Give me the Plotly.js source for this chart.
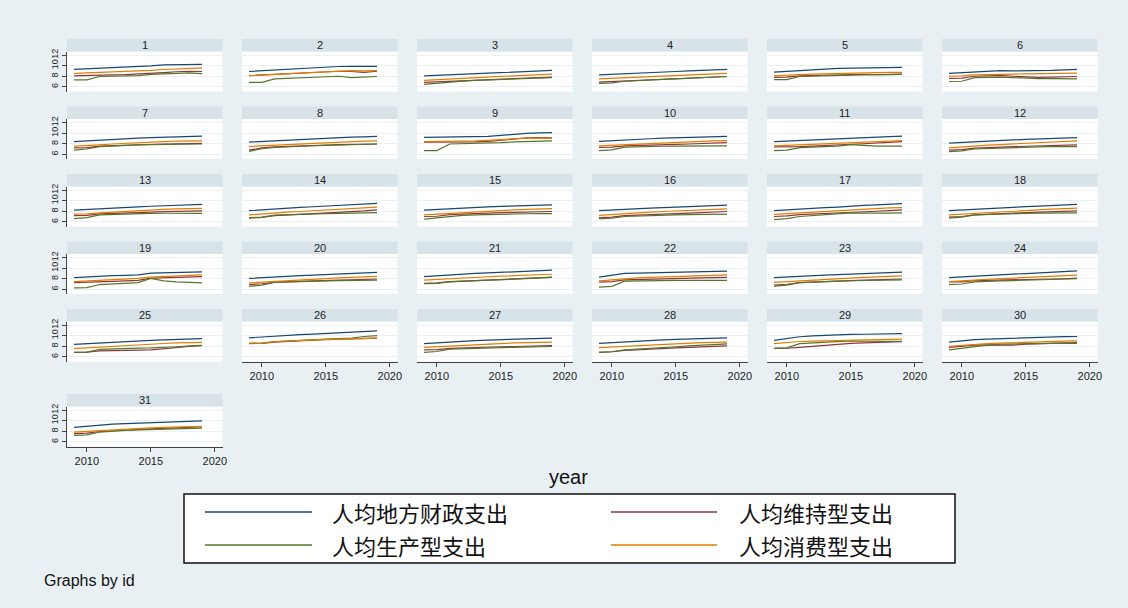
<!DOCTYPE html>
<html><head><meta charset="utf-8">
<script src="https://cdn.plot.ly/plotly-3.0.1.min.js"></script>
<style>html,body{margin:0;padding:0;background:#e9f0f3}</style>
</head><body><div id="chart" style="width:1128px;height:608px"></div>
<script>
const years = [2009,2010,2011,2012,2013,2014,2015,2016,2017,2018,2019];
const panelIds = ['1','2','3','4','5','6','7','8','9','10','11','12','13','14','15','16','17','18','19','20','21','22','23','24','25','26','27','28','29','30','31'];
const seriesNames = ['人均地方财政支出','人均维持型支出','人均生产型支出','人均消费型支出'];
const xTickVals = [2010, 2015, 2020];
const yTickVals = [6, 8, 10, 12];

// 人均地方财政支出 (navy)
const fiscal = [
[9.30,9.40,9.52,9.62,9.72,9.82,9.95,10.15,10.20,10.22,10.25],
[8.90,9.05,9.20,9.35,9.48,9.60,9.72,9.85,9.90,9.85,9.88],
[8.05,8.18,8.30,8.40,8.48,8.58,8.68,8.80,8.90,9.00,9.12],
[8.25,8.38,8.50,8.62,8.72,8.82,8.90,9.00,9.10,9.20,9.30],
[8.80,8.95,9.15,9.30,9.40,9.48,9.55,9.60,9.65,9.68,9.70],
[8.55,8.70,8.85,9.00,9.05,9.00,9.00,9.05,9.10,9.20,9.30],
[8.40,8.55,8.70,8.85,8.95,9.05,9.15,9.25,9.35,9.40,9.45],
[8.32,8.45,8.60,8.72,8.85,8.95,9.05,9.15,9.25,9.32,9.40],
[9.20,9.22,9.25,9.28,9.30,9.40,9.60,9.80,9.95,10.05,10.10],
[8.45,8.60,8.75,8.85,8.95,9.05,9.12,9.20,9.28,9.35,9.40],
[8.40,8.52,8.62,8.72,8.82,8.92,9.05,9.15,9.25,9.35,9.45],
[8.10,8.25,8.40,8.52,8.62,8.72,8.82,8.92,9.00,9.08,9.15],
[8.20,8.35,8.48,8.60,8.72,8.82,8.95,9.05,9.15,9.22,9.30],
[8.10,8.28,8.45,8.60,8.72,8.85,8.98,9.10,9.22,9.35,9.50],
[8.20,8.35,8.48,8.60,8.72,8.82,8.92,9.00,9.08,9.15,9.20],
[8.10,8.25,8.38,8.50,8.60,8.70,8.80,8.90,8.98,9.08,9.15],
[8.10,8.28,8.42,8.55,8.68,8.80,9.00,9.10,9.20,9.32,9.45],
[8.10,8.25,8.40,8.52,8.65,8.75,8.88,8.98,9.08,9.18,9.30],
[8.20,8.35,8.48,8.58,8.65,8.72,9.05,9.12,9.18,9.25,9.30],
[8.05,8.22,8.38,8.50,8.60,8.70,8.80,8.90,9.00,9.10,9.20],
[8.40,8.58,8.75,8.88,9.00,9.10,9.20,9.30,9.40,9.52,9.65],
[8.30,8.65,9.00,9.05,9.10,9.15,9.20,9.28,9.35,9.40,9.45],
[8.20,8.35,8.48,8.58,8.68,8.78,8.88,8.98,9.08,9.16,9.25],
[8.20,8.35,8.55,8.65,8.78,8.88,8.98,9.08,9.20,9.32,9.50],
[8.35,8.50,8.65,8.78,8.90,9.00,9.10,9.20,9.28,9.36,9.45],
[9.60,9.78,9.95,10.08,10.20,10.30,10.40,10.52,10.62,10.75,10.90],
[8.50,8.68,8.85,8.98,9.08,9.18,9.28,9.36,9.44,9.50,9.55],
[8.55,8.70,8.85,8.98,9.10,9.20,9.30,9.38,9.46,9.54,9.60],
[9.10,9.50,9.80,9.95,10.10,10.18,10.27,10.28,10.30,10.33,10.40],
[8.80,9.05,9.25,9.35,9.45,9.55,9.65,9.72,9.78,9.82,9.85],
[8.75,8.95,9.20,9.35,9.45,9.55,9.65,9.75,9.82,9.90,9.95]
];
// 人均维持型支出 (maroon)
const maintain = [
[8.08,8.10,8.18,8.25,8.32,8.40,8.48,8.70,8.85,8.95,8.90],
[8.12,8.22,8.34,8.46,8.58,8.70,8.82,8.95,8.90,8.75,8.95],
[6.85,6.95,7.10,7.20,7.28,7.36,7.44,7.52,7.60,7.70,7.82],
[6.90,7.00,7.15,7.28,7.38,7.48,7.55,7.64,7.72,7.82,7.95],
[7.80,7.85,8.05,8.12,8.20,8.25,8.30,8.35,8.30,8.35,8.40],
[7.60,7.65,8.00,8.10,8.15,8.00,7.85,7.80,7.85,7.90,7.95],
[7.20,7.25,7.55,7.65,7.75,7.82,7.90,7.95,8.00,8.02,8.05],
[6.80,7.20,7.40,7.52,7.60,7.68,7.75,7.82,7.88,7.92,7.95],
[8.30,8.30,8.28,8.30,8.35,8.45,8.65,8.90,9.10,9.15,9.10],
[7.30,7.35,7.60,7.70,7.75,7.80,7.88,7.95,8.02,8.12,8.20],
[7.40,7.40,7.45,7.55,7.62,7.70,7.90,8.00,8.08,8.25,8.40],
[6.80,6.90,7.15,7.28,7.38,7.46,7.52,7.60,7.68,7.75,7.80],
[7.15,7.20,7.50,7.62,7.70,7.78,7.85,7.92,7.98,8.02,8.05],
[6.70,6.85,7.15,7.30,7.42,7.55,7.68,7.80,7.92,8.05,8.25],
[7.00,7.05,7.35,7.48,7.58,7.66,7.74,7.80,7.86,7.92,7.95],
[6.80,6.90,7.15,7.28,7.38,7.46,7.55,7.64,7.72,7.82,7.95],
[7.00,7.10,7.35,7.48,7.58,7.68,7.85,7.92,8.00,8.10,8.25],
[6.90,7.00,7.30,7.45,7.55,7.65,7.72,7.80,7.88,7.95,8.05],
[7.25,7.30,7.40,7.50,7.60,7.70,8.10,8.15,8.20,8.30,8.40],
[6.90,7.05,7.35,7.45,7.52,7.60,7.66,7.72,7.80,7.88,7.95],
[7.10,7.20,7.45,7.58,7.68,7.76,7.84,7.92,8.02,8.12,8.25],
[7.35,7.45,7.80,7.88,7.95,8.00,8.05,8.10,8.15,8.20,8.25],
[6.80,6.95,7.25,7.38,7.48,7.56,7.64,7.72,7.80,7.88,7.95],
[7.40,7.40,7.65,7.72,7.78,7.82,7.86,7.90,7.95,8.00,8.10],
[6.85,6.90,7.10,7.20,7.25,7.28,7.30,7.55,7.80,7.95,8.10],
[8.50,8.55,8.80,8.95,9.05,9.15,9.25,9.35,9.42,9.50,9.55],
[7.30,7.35,7.60,7.70,7.78,7.85,7.90,7.95,8.00,8.05,8.10],
[6.85,6.95,7.20,7.35,7.48,7.58,7.68,7.78,7.88,7.96,8.05],
[7.60,7.62,7.80,8.00,8.20,8.40,8.55,8.65,8.70,8.78,8.85],
[7.80,8.00,8.20,8.25,8.25,8.20,8.40,8.50,8.60,8.65,8.70],
[7.55,7.65,7.95,8.10,8.25,8.35,8.45,8.55,8.65,8.75,8.85]
];
// 人均生产型支出 (forest green)
const produce = [
[7.30,7.30,7.95,8.00,8.05,8.10,8.35,8.45,8.55,8.65,8.50],
[6.85,6.85,7.50,7.58,7.66,7.74,7.85,8.00,7.72,7.85,7.95],
[6.45,6.70,6.95,7.08,7.20,7.28,7.36,7.45,7.55,7.65,7.75],
[6.65,6.75,7.05,7.20,7.30,7.40,7.48,7.58,7.68,7.80,7.95],
[7.35,7.35,7.95,8.05,8.10,8.15,8.22,8.28,8.25,8.30,8.35],
[7.00,7.05,7.75,7.85,7.85,7.75,7.60,7.55,7.55,7.50,7.50],
[6.80,7.00,7.45,7.60,7.70,7.78,7.85,7.90,7.92,7.95,7.95],
[6.55,7.05,7.30,7.45,7.55,7.62,7.70,7.78,7.85,7.90,7.95],
[6.70,6.70,7.95,7.98,8.00,8.05,8.20,8.35,8.45,8.55,8.55],
[6.70,6.85,7.35,7.45,7.50,7.52,7.55,7.55,7.58,7.60,7.60],
[6.70,6.80,7.25,7.35,7.40,7.55,7.85,7.65,7.55,7.55,7.55],
[6.50,6.65,7.00,7.10,7.20,7.28,7.35,7.40,7.45,7.45,7.45],
[6.60,6.80,7.30,7.40,7.48,7.55,7.60,7.62,7.62,7.60,7.60],
[6.80,6.90,7.25,7.35,7.42,7.50,7.55,7.60,7.65,7.70,7.72],
[6.50,6.75,7.10,7.22,7.32,7.40,7.46,7.50,7.52,7.55,7.55],
[6.55,6.70,7.00,7.10,7.18,7.25,7.30,7.35,7.40,7.42,7.45],
[6.40,6.60,7.00,7.15,7.30,7.45,7.70,7.65,7.58,7.65,7.70],
[6.70,6.90,7.30,7.40,7.48,7.55,7.60,7.65,7.68,7.70,7.70],
[6.25,6.30,6.90,7.00,7.10,7.25,8.05,7.60,7.40,7.30,7.20],
[6.55,6.80,7.30,7.40,7.48,7.55,7.60,7.65,7.70,7.72,7.75],
[7.05,7.10,7.40,7.55,7.65,7.75,7.85,7.95,8.05,8.18,8.30],
[6.40,6.55,7.55,7.62,7.65,7.68,7.70,7.70,7.70,7.70,7.70],
[6.60,6.80,7.25,7.38,7.48,7.55,7.62,7.68,7.72,7.76,7.80],
[6.90,7.00,7.40,7.55,7.60,7.65,7.70,7.75,7.82,7.90,8.00],
[6.85,6.90,7.40,7.52,7.60,7.65,7.68,7.75,7.90,8.05,8.15],
[8.55,8.60,8.90,9.05,9.12,9.22,9.35,9.45,9.55,9.85,10.00],
[6.85,7.00,7.45,7.55,7.62,7.68,7.74,7.80,7.86,7.92,7.95],
[6.85,6.95,7.30,7.48,7.62,7.75,7.90,8.05,8.20,8.35,8.45],
[7.60,7.70,8.50,8.65,8.80,8.90,9.00,8.95,8.90,8.92,8.95],
[7.30,7.60,8.00,8.20,8.40,8.45,8.55,8.60,8.65,8.60,8.55],
[7.20,7.30,7.85,8.05,8.15,8.25,8.32,8.40,8.48,8.55,8.60]
];
// 人均消费型支出 (dark orange)
const consume = [
[8.55,8.62,8.72,8.82,8.90,9.00,9.10,9.28,9.40,9.50,9.58],
[8.10,8.22,8.35,8.48,8.60,8.72,8.85,9.02,9.05,9.00,9.08],
[7.20,7.35,7.50,7.62,7.74,7.85,7.96,8.08,8.20,8.30,8.42],
[7.50,7.62,7.75,7.88,7.98,8.08,8.18,8.28,8.38,8.46,8.55],
[8.05,8.12,8.30,8.40,8.48,8.55,8.60,8.65,8.70,8.72,8.75],
[8.00,8.05,8.25,8.35,8.40,8.42,8.45,8.48,8.52,8.56,8.60],
[7.55,7.62,7.80,7.95,8.10,8.22,8.32,8.42,8.48,8.52,8.55],
[7.50,7.62,7.75,7.88,8.00,8.12,8.22,8.32,8.42,8.50,8.55],
[8.40,8.42,8.45,8.48,8.55,8.65,8.80,8.95,9.05,9.05,9.00],
[7.60,7.72,7.85,7.98,8.08,8.18,8.28,8.38,8.46,8.54,8.60],
[7.60,7.70,7.82,7.92,8.02,8.12,8.22,8.32,8.42,8.52,8.60],
[7.20,7.40,7.58,7.72,7.85,7.98,8.10,8.22,8.32,8.45,8.55],
[7.45,7.50,7.70,7.85,7.98,8.10,8.25,8.35,8.45,8.50,8.55],
[7.30,7.50,7.68,7.82,7.95,8.10,8.25,8.40,8.55,8.68,8.80],
[7.30,7.45,7.62,7.78,7.92,8.05,8.15,8.25,8.35,8.42,8.50],
[7.20,7.38,7.55,7.70,7.82,7.95,8.05,8.15,8.25,8.35,8.45],
[7.40,7.55,7.72,7.85,7.98,8.10,8.30,8.42,8.52,8.62,8.70],
[7.30,7.45,7.62,7.78,7.90,8.02,8.15,8.28,8.40,8.50,8.60],
[7.45,7.55,7.68,7.80,7.92,8.05,8.30,8.45,8.55,8.65,8.75],
[7.20,7.35,7.52,7.68,7.80,7.92,8.04,8.15,8.25,8.35,8.45],
[7.75,7.90,8.05,8.18,8.28,8.38,8.48,8.58,8.68,8.78,8.85],
[7.60,7.80,8.05,8.15,8.25,8.35,8.42,8.52,8.60,8.68,8.75],
[7.30,7.45,7.62,7.76,7.88,8.00,8.12,8.24,8.35,8.45,8.55],
[7.45,7.55,7.75,7.90,8.00,8.12,8.24,8.36,8.48,8.60,8.70],
[7.55,7.70,7.90,8.05,8.18,8.30,8.42,8.52,8.62,8.70,8.75],
[8.55,8.60,8.85,9.00,9.10,9.20,9.30,9.38,9.45,9.52,9.55],
[7.80,7.92,8.10,8.25,8.38,8.48,8.56,8.64,8.70,8.76,8.80],
[7.75,7.88,8.02,8.15,8.28,8.40,8.50,8.60,8.68,8.75,8.80],
[8.50,8.72,8.90,8.98,9.05,9.10,9.15,9.15,9.20,9.28,9.35],
[8.00,8.20,8.35,8.50,8.60,8.70,8.80,8.88,8.95,8.98,9.00],
[7.85,8.00,8.15,8.30,8.45,8.55,8.65,8.75,8.82,8.90,8.95]
];

const seriesData = [fiscal, maintain, produce, consume];
const seriesColors = ['#1a476f', '#90353b', '#55752f', '#e37e00'];

const W = 1128, H = 608;
const px = v => v / W;
const py = v => 1 - v / H;

const colLeft = [67, 242, 417, 592, 767, 942];
const panelW = 155.5;
const stripTop = [39, 106.5, 174, 241.5, 309, 394];
const stripH = 12.5;
const plotH = 40;
const latin = 'Liberation Sans, Arial, sans-serif';
const cjk = 'Noto Sans CJK SC, sans-serif';

const traces = [];
const layout = {
  width: W, height: H,
  margin: {l: 0, r: 0, t: 0, b: 0},
  paper_bgcolor: '#e9f0f3',
  plot_bgcolor: '#ffffff',
  showlegend: false,
  font: {family: latin, color: '#222'},
  shapes: [],
  annotations: []
};

panelIds.forEach((pid, i) => {
  const r = Math.floor(i / 6), c = i % 6;
  const n = i + 1;
  const xa = 'xaxis' + (n === 1 ? '' : n);
  const ya = 'yaxis' + (n === 1 ? '' : n);
  const xref = 'x' + (n === 1 ? '' : n);
  const yref = 'y' + (n === 1 ? '' : n);
  const left = colLeft[c], right = left + panelW;
  const top = stripTop[r] + stripH, bottom = top + plotH;
  const bottomPanel = (i >= 25);
  layout[xa] = {
    domain: [px(left), px(right)],
    anchor: yref,
    range: [2008.45, 2020.6],
    showgrid: false, zeroline: false,
    tickvals: xTickVals,
    showticklabels: bottomPanel,
    ticks: bottomPanel ? 'outside' : '',
    ticklen: 4, tickcolor: '#444',
    showline: bottomPanel, linecolor: '#444', linewidth: 1,
    tickfont: {size: 11, family: latin, color: '#222'}
  };
  layout[ya] = {
    domain: [py(bottom), py(top)],
    anchor: xref,
    range: [5.1, 12.7],
    tickvals: yTickVals,
    showgrid: true, gridcolor: '#eaf1f3', gridwidth: 1,
    zeroline: false,
    showticklabels: c === 0,
    ticks: c === 0 ? 'outside' : '',
    ticklen: 4, tickcolor: '#444',
    tickangle: -90,
    showline: c === 0, linecolor: '#444', linewidth: 1,
    tickfont: {size: 9, family: latin, color: '#222'}
  };
  // strip header
  layout.shapes.push({
    type: 'rect', xref: 'paper', yref: 'paper',
    x0: px(left), x1: px(right), y0: py(stripTop[r] + stripH), y1: py(stripTop[r]),
    fillcolor: '#d8e3e9', line: {width: 0}, layer: 'below'
  });
  layout.annotations.push({
    xref: 'paper', yref: 'paper',
    x: px((left + right) / 2), y: py(stripTop[r] + stripH / 2),
    xanchor: 'center', yanchor: 'middle',
    text: pid, showarrow: false,
    font: {size: 11, family: latin, color: '#222'}
  });
  seriesData.forEach((arr, s) => {
    traces.push({
      type: 'scatter', mode: 'lines',
      x: years, y: arr[i],
      xaxis: xref, yaxis: yref,
      name: seriesNames[s],
      line: {color: seriesColors[s], width: 1.2},
      hoverinfo: 'skip'
    });
  });
});

// x-axis title
layout.annotations.push({
  xref: 'paper', yref: 'paper', x: px(568), y: py(477),
  xanchor: 'center', yanchor: 'middle', text: 'year', showarrow: false,
  font: {size: 20, family: latin, color: '#111'}
});
// note
layout.annotations.push({
  xref: 'paper', yref: 'paper', x: px(42), y: py(580),
  xanchor: 'left', yanchor: 'middle', text: 'Graphs by id', showarrow: false,
  font: {size: 16, family: latin, color: '#111'}
});

// legend box (drawn manually to mimic Stata key layout)
layout.shapes.push({
  type: 'rect', xref: 'paper', yref: 'paper',
  x0: px(184), x1: px(955), y0: py(563), y1: py(494),
  fillcolor: '#ffffff', line: {color: '#111', width: 1.5}
});
const legendOrder = [0, 1, 2, 3];
const keyX = [[205, 312, 330], [611, 717, 737]];
const keyY = [512, 545];
legendOrder.forEach((s, k) => {
  const rr = Math.floor(k / 2), cc = k % 2;
  layout.shapes.push({
    type: 'line', xref: 'paper', yref: 'paper',
    x0: px(keyX[cc][0]), x1: px(keyX[cc][1]), y0: py(keyY[rr]), y1: py(keyY[rr]),
    line: {color: seriesColors[s], width: 1.5}
  });
  layout.annotations.push({
    xref: 'paper', yref: 'paper', x: px(keyX[cc][2]), y: py(keyY[rr]),
    xanchor: 'left', yanchor: 'middle', text: seriesNames[s], showarrow: false,
    font: {size: 22, family: cjk, color: '#111'}
  });
});

Plotly.newPlot('chart', traces, layout, {displayModeBar: false, staticPlot: true});
</script>
</body></html>
